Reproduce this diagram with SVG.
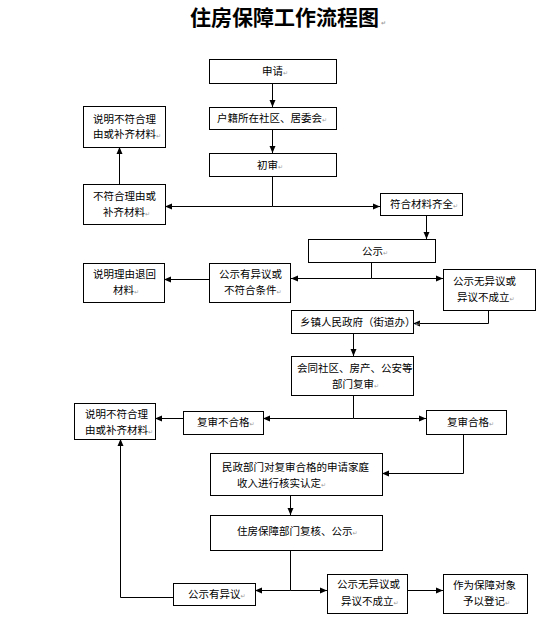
<svg xmlns="http://www.w3.org/2000/svg" width="558" height="638" viewBox="0 0 558 638">
<style>
.box{fill:#fff;stroke:#000;stroke-width:1}
.t{font-family:"Noto Sans CJK SC","Noto Sans",sans-serif;font-size:10.5px;fill:#000}
.title{font-family:"Noto Sans CJK SC","Noto Sans",sans-serif;font-size:21px;font-weight:bold;fill:#000}
.pm{font-family:"DejaVu Sans",sans-serif;font-size:6px;fill:#999}
.c{fill:none;stroke:#000;stroke-width:1}
</style>
<defs>
<marker id="ah" markerUnits="userSpaceOnUse" markerWidth="8" markerHeight="8" viewBox="0 0 8 8" refX="7" refY="4" orient="auto">
<path d="M0,1 L7,4 L0,7 Z" fill="#000"/>
</marker>
</defs>
<rect width="558" height="638" fill="#fff"/>
<text class="title" x="190" y="25">住房保障工作流程图<tspan class="pm" dx="2">↵</tspan></text>

<g id="connectors">
<path class="c" d="M272.5,83 V107" marker-end="url(#ah)"/>
<path class="c" d="M272.5,129 V153" marker-end="url(#ah)"/>
<path class="c" d="M272.5,176 V206.5"/>
<path class="c" d="M272.5,206.5 H165" marker-end="url(#ah)"/>
<path class="c" d="M272.5,206.5 H380" marker-end="url(#ah)"/>
<path class="c" d="M119.5,184 V147" marker-end="url(#ah)"/>
<path class="c" d="M426.5,215 V239" marker-end="url(#ah)"/>
<path class="c" d="M371.5,262 V278.5"/>
<path class="c" d="M371.5,278.5 H291" marker-end="url(#ah)"/>
<path class="c" d="M371.5,278.5 H443" marker-end="url(#ah)"/>
<path class="c" d="M209,279.5 H164" marker-end="url(#ah)"/>
<path class="c" d="M488.5,310 V323.5 H413" marker-end="url(#ah)"/>
<path class="c" d="M353.5,333 V356" marker-end="url(#ah)"/>
<path class="c" d="M353.5,395 V418.5"/>
<path class="c" d="M353.5,418.5 H263" marker-end="url(#ah)"/>
<path class="c" d="M353.5,418.5 H426" marker-end="url(#ah)"/>
<path class="c" d="M183,418.5 H155" marker-end="url(#ah)"/>
<path class="c" d="M463.5,434 V473.5 H382" marker-end="url(#ah)"/>
<path class="c" d="M290.5,495 V515" marker-end="url(#ah)"/>
<path class="c" d="M290.5,550 V590.5"/>
<path class="c" d="M290.5,590.5 H255" marker-end="url(#ah)"/>
<path class="c" d="M290.5,590.5 H327" marker-end="url(#ah)"/>
<path class="c" d="M407,590.5 H443" marker-end="url(#ah)"/>
<path class="c" d="M173,597.5 H120.5 V439" marker-end="url(#ah)"/>
</g>

<g id="n-apply"><rect class="box" x="209.5" y="59.5" width="127" height="24"/><text class="t" x="262" y="75">申请<tspan class="pm">↵</tspan></text></g>
<g id="n-community"><rect class="box" x="209.5" y="107.5" width="127" height="22"/><text class="t" x="217" y="122">户籍所在社区、居委会<tspan class="pm">↵</tspan></text></g>
<g id="n-first"><rect class="box" x="209.5" y="153.5" width="127" height="23"/><text class="t" x="257" y="169">初审<tspan class="pm">↵</tspan></text></g>
<g id="n-explain1"><rect class="box" x="83.5" y="106.5" width="82" height="41"/><text class="t" x="93" y="123">说明不符合理</text><text class="t" x="93" y="138">由或补齐材料<tspan class="pm">↵</tspan></text></g>
<g id="n-notmeet"><rect class="box" x="83.5" y="184.5" width="82" height="40"/><text class="t" x="93" y="200">不符合理由或</text><text class="t" x="103" y="216">补齐材料<tspan class="pm">↵</tspan></text></g>
<g id="n-complete"><rect class="box" x="380.5" y="193.5" width="82" height="22"/><text class="t" x="390" y="208">符合材料齐全<tspan class="pm">↵</tspan></text></g>
<g id="n-publish1"><rect class="box" x="308.5" y="239.5" width="127" height="23"/><text class="t" x="362" y="255">公示<tspan class="pm">↵</tspan></text></g>
<g id="n-noobj1"><rect class="box" x="443.5" y="269.5" width="92" height="41"/><text class="t" x="453" y="285">公示无异议或</text><text class="t" x="457" y="301">异议不成立<tspan class="pm">↵</tspan></text></g>
<g id="n-return"><rect class="box" x="83.5" y="263.5" width="81" height="39"/><text class="t" x="93" y="278">说明理由退回</text><text class="t" x="113" y="294">材料<tspan class="pm">↵</tspan></text></g>
<g id="n-obj1"><rect class="box" x="209.5" y="263.5" width="81" height="39"/><text class="t" x="219" y="278">公示有异议或</text><text class="t" x="224" y="294">不符合条件<tspan class="pm">↵</tspan></text></g>
<g id="n-town"><rect class="box" x="291.5" y="310.5" width="122" height="23"/><text class="t" x="300" y="326">乡镇人民政府（街道办）<tspan class="pm">↵</tspan></text></g>
<g id="n-joint"><rect class="box" x="291.5" y="356.5" width="122" height="39"/><text class="t" x="297" y="372">会同社区、房产、公安等</text><text class="t" x="332" y="388">部门复审<tspan class="pm">↵</tspan></text></g>
<g id="n-fail"><rect class="box" x="183.5" y="411.5" width="80" height="23"/><text class="t" x="197" y="426">复审不合格<tspan class="pm">↵</tspan></text></g>
<g id="n-pass"><rect class="box" x="426.5" y="410.5" width="80" height="24"/><text class="t" x="447" y="426">复审合格<tspan class="pm">↵</tspan></text></g>
<g id="n-explain2"><rect class="box" x="74.5" y="403.5" width="81" height="36"/><text class="t" x="85" y="418">说明不符合理</text><text class="t" x="85" y="434">由或补齐材料<tspan class="pm">↵</tspan></text></g>
<g id="n-civil"><rect class="box" x="210.5" y="453.5" width="172" height="42"/><text class="t" x="222" y="471">民政部门对复审合格的申请家庭</text><text class="t" x="237" y="487">收入进行核实认定<tspan class="pm">↵</tspan></text></g>
<g id="n-housing"><rect class="box" x="210.5" y="515.5" width="172" height="35"/><text class="t" x="237" y="535">住房保障部门复核、公示<tspan class="pm">↵</tspan></text></g>
<g id="n-obj2"><rect class="box" x="173.5" y="583.5" width="82" height="22"/><text class="t" x="188" y="598">公示有异议<tspan class="pm">↵</tspan></text></g>
<g id="n-noobj2"><rect class="box" x="327.5" y="574.5" width="80" height="39"/><text class="t" x="337" y="588">公示无异议或</text><text class="t" x="341" y="605">异议不成立<tspan class="pm">↵</tspan></text></g>
<g id="n-register"><rect class="box" x="443.5" y="574.5" width="84" height="39"/><text class="t" x="453" y="589">作为保障对象</text><text class="t" x="463" y="605">予以登记<tspan class="pm">↵</tspan></text></g>
</svg>
